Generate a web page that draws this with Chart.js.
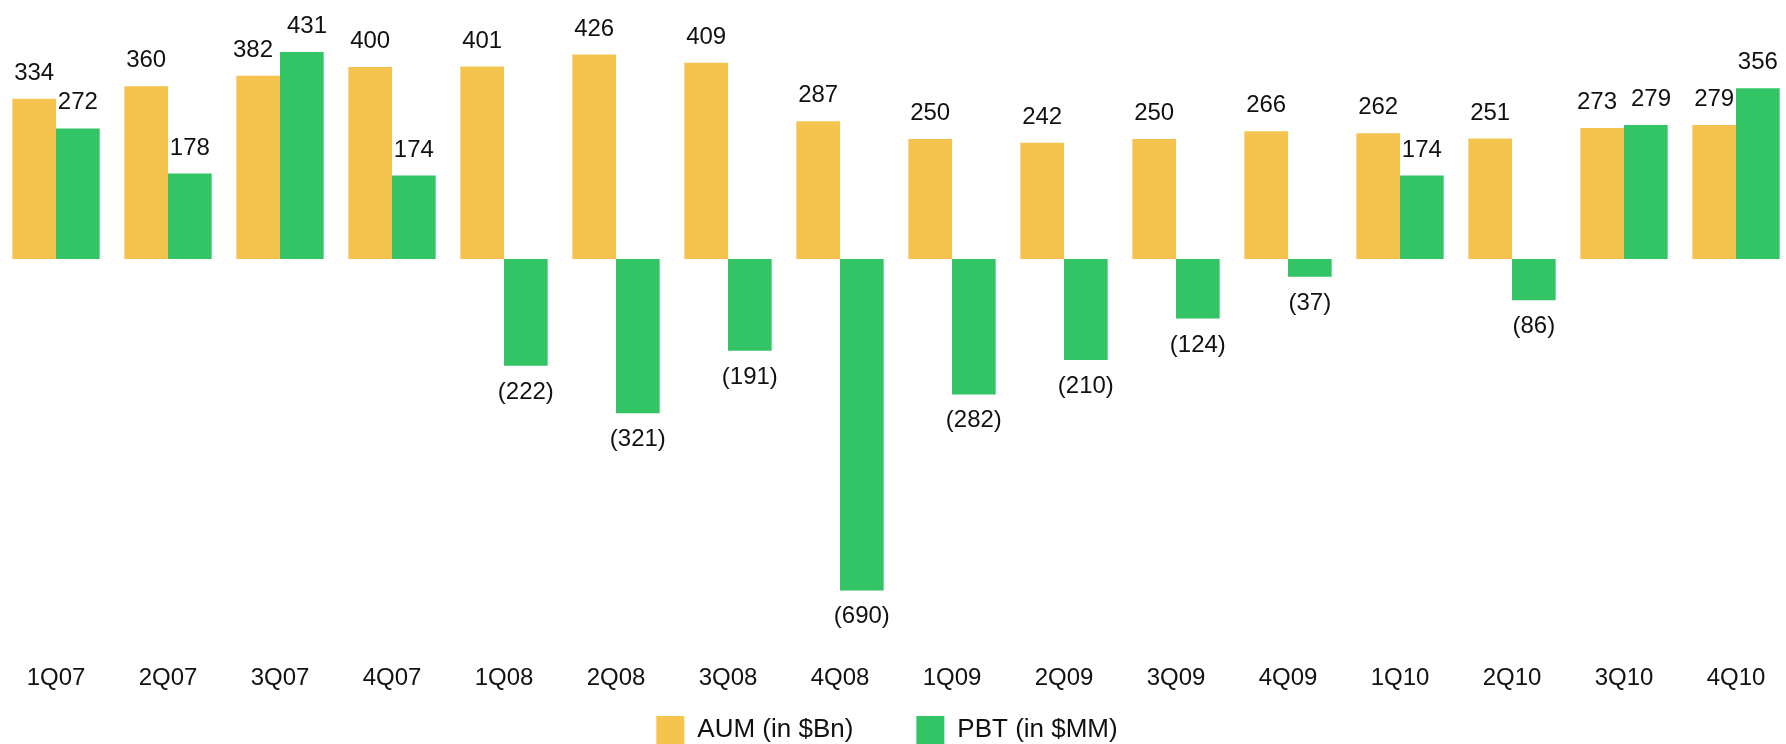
<!DOCTYPE html>
<html>
<head>
<meta charset="utf-8">
<title>AUM and PBT by quarter</title>
<script src="https://cdn.jsdelivr.net/npm/chart.js@4/dist/chart.umd.min.js"></script>
<style>
  html, body { margin: 0; padding: 0; background: #ffffff; overflow: hidden; }
  #wrap { position: relative; width: 1792px; height: 744px; }
</style>
</head>
<body>
<div id="wrap"><canvas id="chart" width="1792" height="744"></canvas></div>
<script>
// Quarterly figures
const quarters = ['1Q07', '2Q07', '3Q07', '4Q07', '1Q08', '2Q08', '3Q08', '4Q08',
                  '1Q09', '2Q09', '3Q09', '4Q09', '1Q10', '2Q10', '3Q10', '4Q10'];
const aumBn = [334, 360, 382, 400, 401, 426, 409, 287, 250, 242, 250, 266, 262, 251, 273, 279];
const pbtMM = [272, 178, 431, 174, -222, -321, -191, -690, -282, -210, -124, -37, 174, -86, 279, 356];
const seriesNames = ['AUM (in $Bn)', 'PBT (in $MM)'];

const seriesColors = ['#F5C44E', '#33C466'];
const FONT = '"Liberation Sans", Arial, Helvetica, sans-serif';
const TEXT = '#111111';

// Numbers above positive bars, bracketed numbers below negative ones
const valueLabels = {
  id: 'valueLabels',
  afterDatasetsDraw(chart) {
    const ctx = chart.ctx;
    ctx.save();
    ctx.font = '24px ' + FONT;
    ctx.fillStyle = TEXT;
    ctx.textAlign = 'center';
    ctx.textBaseline = 'alphabetic';
    chart.data.labels.forEach((_, i) => {
      const items = chart.data.datasets.map((ds, d) => {
        const bar = chart.getDatasetMeta(d).data[i];
        const v = ds.data[i];
        const text = v < 0 ? '(' + Math.abs(v) + ')' : String(v);
        return {
          text,
          x: bar.x,
          y: v < 0 ? bar.y + 33 : bar.y - 19,
          w: ctx.measureText(text).width,
          neg: v < 0
        };
      });
      // keep neighbouring labels of one quarter from touching
      const [a, b] = items;
      if (a.neg === b.neg && Math.abs(a.y - b.y) < 26) {
        const gap = (b.x - b.w / 2) - (a.x + a.w / 2);
        const need = 14 - gap;
        if (need > 0) { a.x -= need / 2; b.x += need / 2; }
      }
      items.forEach(it => ctx.fillText(it.text, it.x, it.y));
    });
    ctx.restore();
  }
};

// Legend row under the quarter labels
const bottomLegend = {
  id: 'bottomLegend',
  afterDraw(chart) {
    const ctx = chart.ctx;
    const box = 28, gap = 13, spacing = 63, top = 716;
    ctx.save();
    ctx.font = '26px ' + FONT;
    const widths = chart.data.datasets.map(ds => ctx.measureText(ds.label).width);
    const total = widths.reduce((s, w) => s + box + gap + w, 0) + spacing * (widths.length - 1);
    let x = 887 - total / 2;
    ctx.textBaseline = 'middle';
    ctx.textAlign = 'left';
    chart.data.datasets.forEach((ds, d) => {
      ctx.fillStyle = ds.backgroundColor;
      ctx.fillRect(x, top, box, box);
      ctx.fillStyle = TEXT;
      ctx.fillText(ds.label, x + box + gap, top + box / 2);
      x += box + gap + widths[d] + spacing;
    });
    ctx.restore();
  }
};

new Chart(document.getElementById('chart'), {
  type: 'bar',
  data: {
    labels: quarters,
    datasets: [
      { label: seriesNames[0], data: aumBn, backgroundColor: seriesColors[0] },
      { label: seriesNames[1], data: pbtMM, backgroundColor: seriesColors[1] }
    ]
  },
  options: {
    responsive: false,
    animation: false,
    devicePixelRatio: 1,
    datasets: {
      bar: { categoryPercentage: 0.78, barPercentage: 1.0, borderWidth: 0 }
    },
    layout: { padding: { top: 43, bottom: 30, left: 0, right: 0 } },
    plugins: {
      legend: { display: false },
      tooltip: { enabled: false }
    },
    scales: {
      x: {
        grid: { display: false, drawTicks: false },
        border: { display: false },
        ticks: { color: TEXT, font: { size: 24, family: FONT }, padding: 21, maxRotation: 0 }
      },
      y: {
        display: false,
        min: -800,
        max: 450
      }
    }
  },
  plugins: [valueLabels, bottomLegend]
});
</script>
</body>
</html>
